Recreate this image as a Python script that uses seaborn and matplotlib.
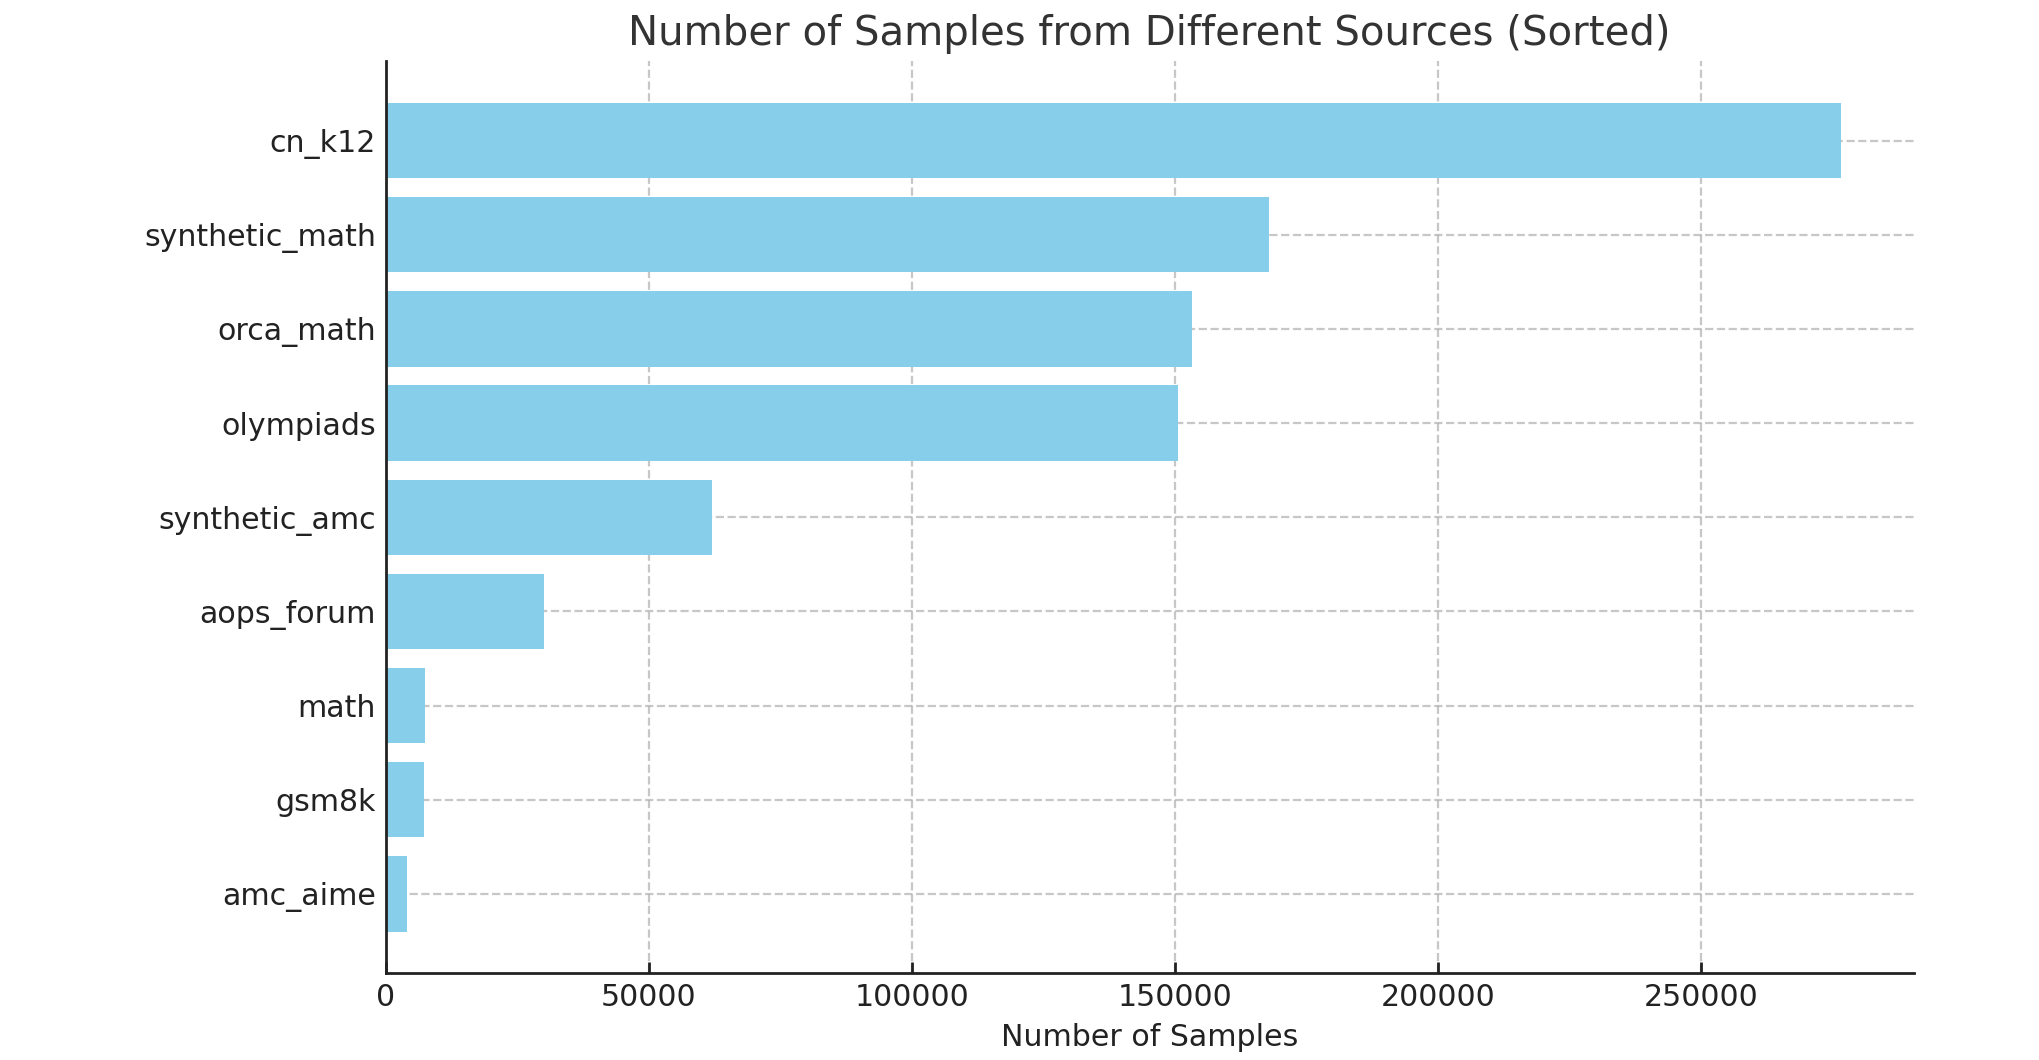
import pandas as pd
import seaborn as sns
import matplotlib.pyplot as plt

sources = ["cn_k12", "synthetic_math", "orca_math", "olympiads", "synthetic_amc",
           "aops_forum", "math", "gsm8k", "amc_aime"]
samples = [276591, 167895, 153334, 150581, 62111, 30201, 7477, 7345, 4072]

sns.set_theme(style="white")
plt.rcParams['font.family'] = ['DejaVu Sans']

df = pd.DataFrame({"source": sources, "samples": samples})

fig, ax = plt.subplots(figsize=(10.2, 5.3), dpi=200)
fig.subplots_adjust(left=0.189, right=0.938, top=0.942, bottom=0.082)

sns.barplot(data=df, y="source", x="samples", orient="h", color="skyblue",
            saturation=1, width=0.8, linewidth=0, ax=ax, zorder=2)

ax.set_ylim(len(sources) - 1 + 0.84, -0.84)
ax.set_xlim(0, max(samples) * 1.05)
ax.grid(True, linestyle="--", color="#b0b0b0", alpha=0.7, linewidth=0.8, zorder=0)
ax.set_axisbelow(True)

for side in ["top", "right"]:
    ax.spines[side].set_visible(False)
for side in ["left", "bottom"]:
    ax.spines[side].set_color("#222222")
    ax.spines[side].set_linewidth(1.0)

ax.tick_params(axis="both", direction="in", length=4, width=1, color="#222222",
               labelsize=10.8, labelcolor="#222222", left=True, bottom=True)
ax.set_xlabel("Number of Samples", fontsize=10.8, color="#222222")
ax.set_ylabel("")
ax.set_title("Number of Samples from Different Sources (Sorted)", fontsize=14.5, color="#333333")

plt.savefig("out.png", dpi=200)
plt.close()
